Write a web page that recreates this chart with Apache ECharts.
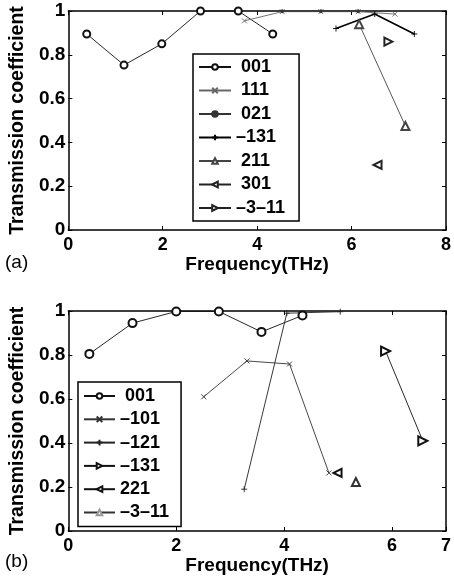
<!DOCTYPE html>
<html><head><meta charset="utf-8">
<script src="https://cdn.jsdelivr.net/npm/echarts@6/dist/echarts.min.js"></script>
<style>html,body{margin:0;padding:0;background:#fff}#c{width:454px;height:577px}</style>
</head><body><div id="c"></div>
<script>
// ---------- Panel (a) data: [frequency THz, transmission coefficient] ----------
const a001   = [[0.39,0.895],[1.18,0.753],[1.98,0.85],[2.80,1.0],[3.60,1.0],[4.33,0.895]];
const a111   = [[3.73,0.955],[4.53,0.997],[5.35,0.997],[6.14,0.997],[6.92,0.986]];
const a021   = [[4.53,0.999],[5.35,0.999],[6.14,0.999]];
const aM131  = [[5.67,0.92],[6.49,0.986],[7.33,0.895]];
const a211   = [[6.16,0.94],[7.14,0.475]];
const a301   = [[6.55,0.297]];
const aM3M11 = [[6.78,0.86]];
const labelsA = ['001','111','021','–131','211','301','–3–11'];

// ---------- Panel (b) data ----------
const b001   = [[0.39,0.805],[1.19,0.945],[2.0,0.998],[2.79,0.998],[3.58,0.905],[4.34,0.98]];
const bM101  = [[2.51,0.61],[3.31,0.773],[4.10,0.759],[4.83,0.264]];
const bM121  = [[3.26,0.19],[4.05,0.99],[5.04,0.997]];
const bM131  = [[5.88,0.818],[6.57,0.41]];
const b221   = [[4.99,0.264]];
const bM3M11 = [[5.33,0.223]];
const labelsB = ['001','–101','–121','–131','221','–3–11'];

const xMaxA = 8, xMaxB = 7, xStep = 2, yStep = 0.2;

const SYM_X = 'path://M0,0L10,10M0,10L10,0';
const SYM_PLUS = 'path://M5,0L5,10M0,5L10,5';
const FONT = 'Liberation Sans, Arial, Helvetica, sans-serif';

function ser(id, data, idx, sym, size, color, lw, extra) {
  const s = {
    name: id, type: 'line', data: data,
    xAxisIndex: idx, yAxisIndex: idx,
    symbol: sym, symbolSize: size, showSymbol: true,
    clip: false, animation: false,
    lineStyle: { color: color, width: lw },
    itemStyle: { color: color, borderColor: color, borderWidth: 0.9 },
    emphasis: { disabled: true }
  };
  return Object.assign(s, extra || {});
}

const display = {};
['a001','a111','a021','a-131','a211','a301','a-3-11'].forEach((k,i)=>display[k]=labelsA[i]);
['b001','b-101','b-121','b-131','b221','b-3-11'].forEach((k,i)=>display[k]=labelsB[i]);

const series = [
  ser('a001', a001, 0, 'emptyCircle', 7, '#111', 0.9),
  ser('a111', a111, 0, SYM_X, 5, '#666', 0.9),
  ser('a021', a021, 0, 'circle', 3, '#333', 0.9),
  ser('a-131', aM131, 0, SYM_PLUS, 6, '#000', 1.6),
  ser('a211', a211, 0, 'emptyTriangle', 8, '#444', 0.9),
  ser('a301', a301, 0, 'emptyTriangle', 8, '#222', 0.9, {symbolRotate: 90}),
  ser('a-3-11', aM3M11, 0, 'emptyTriangle', 8, '#222', 0.9, {symbolRotate: -90}),
  ser('b001', b001, 2, 'emptyCircle', 8, '#111', 0.9),
  ser('b-101', bM101, 2, SYM_X, 5, '#333', 0.9),
  ser('b-121', bM121, 2, SYM_PLUS, 6, '#222', 0.9),
  ser('b-131', bM131, 2, 'emptyTriangle', 9, '#111', 0.9, {symbolRotate: -90}),
  ser('b221', b221, 2, 'emptyTriangle', 8, '#111', 0.9, {symbolRotate: 90}),
  ser('b-3-11', bM3M11, 2, 'emptyTriangle', 8, '#333', 0.9)
];

const axisLine = { show: true, onZero: false, lineStyle: { color: '#000', width: 1.5 } };
const tick = { show: true, inside: true, length: 4, lineStyle: { color: '#000', width: 1 } };

function xAx(grid, max, pos, main) {
  return {
    type: 'value', gridIndex: grid, position: pos, min: 0, max: max, interval: xStep,
    axisLine: axisLine, axisTick: tick, splitLine: { show: false },
    axisLabel: { show: main, color: '#000', fontFamily: FONT, fontWeight: 'bold', fontSize: 18, margin: 6 },
    name: main ? 'Frequency(THz)' : '', nameLocation: 'middle', nameGap: 20,
    nameTextStyle: { color: '#000', fontFamily: FONT, fontWeight: 'bold', fontSize: 19 }
  };
}
function yAx(grid, pos, main) {
  return {
    type: 'value', gridIndex: grid, position: pos, min: 0, max: 1, interval: yStep,
    axisLine: axisLine, axisTick: tick, splitLine: { show: false },
    axisLabel: { show: main, color: '#000', fontFamily: FONT, fontWeight: 'bold', fontSize: 19, margin: 3,
      formatter: v => (Math.round(v*10)/10).toString() },
    name: main ? 'Transmission coefficient' : '', nameLocation: 'middle', nameGap: 33,
    nameTextStyle: { color: '#000', fontFamily: FONT, fontWeight: 'bold', fontSize: 19.5 }
  };
}

function legendFmt(n) {
  const d = display[n];
  if (n === 'b001') return ' ' + d;
  if (n.startsWith('a') && d[0] !== '–') return ' ' + d;
  return d;
}

const legendText = { color: '#000', fontFamily: FONT, fontWeight: 'bold', fontSize: 18 };

const option = {
  animation: false,
  backgroundColor: '#fff',
  grid: [
    { left: 58, top: 11, width: 392, height: 219 },
    { left: 58, top: 311, width: 393, height: 220 }
  ],
  xAxis: [xAx(0, xMaxA, 'bottom', true), xAx(0, xMaxA, 'top', false),
          xAx(1, xMaxB, 'bottom', true), xAx(1, xMaxB, 'top', false)],
  yAxis: [yAx(0, 'left', true), yAx(0, 'right', false),
          yAx(1, 'left', true), yAx(1, 'right', false)],
  legend: [
    { data: ['a001','a111','a021','a-131','a211','a301','a-3-11'],
      orient: 'vertical', left: 193, top: 54, padding: [4, 14, 4, 5],
      itemWidth: 32, itemHeight: 7, itemGap: 5.5,
      borderColor: '#000', borderWidth: 1.5, backgroundColor: '#fff',
      formatter: legendFmt, selectedMode: false, textStyle: legendText },
    { data: ['b001','b-101','b-121','b-131','b221',
             { name: 'b-3-11', itemStyle: { color: '#999', borderColor: '#555' } }],
      orient: 'vertical', left: 78, top: 382, padding: [5, 12, 5, 5],
      itemWidth: 31, itemHeight: 7, itemGap: 5.3,
      borderColor: '#000', borderWidth: 1.5, backgroundColor: '#fff',
      formatter: legendFmt, selectedMode: false, textStyle: legendText }
  ],
  graphic: [
    { type: 'text', left: 5, top: 253, style: { text: '(a)', fill: '#000', font: '19px ' + FONT } },
    { type: 'text', left: 5, top: 552, style: { text: '(b)', fill: '#000', font: '19px ' + FONT } }
  ],
  series: series
};

const chart = echarts.init(document.getElementById('c'), null, { renderer: 'canvas' });
chart.setOption(option);
</script>
</body></html>
